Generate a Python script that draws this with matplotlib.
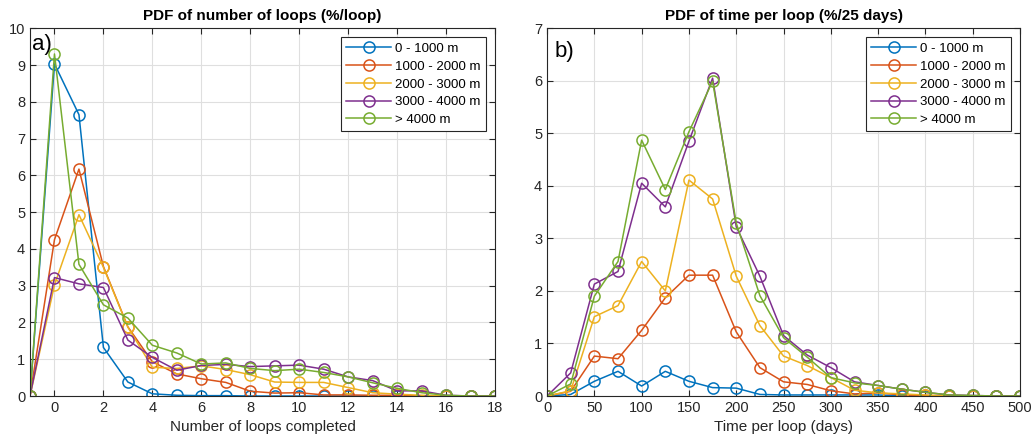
import matplotlib.pyplot as plt
import numpy as np

plt.rcParams['font.family'] = ['Liberation Sans', 'DejaVu Sans']

labels = ['0 - 1000 m', '1000 - 2000 m', '2000 - 3000 m', '3000 - 4000 m', '> 4000 m']
colors = ['#0072BD', '#D95319', '#EDB120', '#7E2F8E', '#77AC30']

# panel a: number of loops completed
loops = list(range(-1, 19))
loops_pdf = [
    [0, 9.03, 7.65, 1.32, 0.38, 0.06, 0.02, 0.01, 0.01, 0.0, 0.0, 0.0, 0.0, 0, 0, 0, 0, 0, 0, 0],
    [0, 4.25, 6.17, 3.52, 1.88, 0.93, 0.60, 0.47, 0.37, 0.13, 0.08, 0.09, 0.03, 0.03, 0.02, 0.02, 0.0, 0, 0, 0],
    [0, 3.02, 4.93, 3.50, 1.87, 0.78, 0.75, 0.82, 0.72, 0.58, 0.38, 0.37, 0.37, 0.23, 0.09, 0.05, 0.02, 0, 0, 0],
    [0, 3.22, 3.05, 2.95, 1.52, 1.05, 0.70, 0.83, 0.86, 0.80, 0.82, 0.84, 0.73, 0.52, 0.42, 0.14, 0.14, 0.02, 0, 0],
    [0, 9.30, 3.58, 2.48, 2.12, 1.38, 1.17, 0.87, 0.90, 0.75, 0.69, 0.73, 0.64, 0.52, 0.36, 0.21, 0.09, 0.02, 0, 0],
]

# panel b: time per loop
days = list(range(0, 501, 25))
time_pdf = [
    [0, 0.03, 0.28, 0.47, 0.19, 0.47, 0.28, 0.16, 0.15, 0.03, 0.02, 0.02, 0.02, 0.02, 0.02, 0.0, 0, 0, 0, 0, 0],
    [0, 0.09, 0.76, 0.71, 1.25, 1.87, 2.30, 2.30, 1.22, 0.54, 0.27, 0.22, 0.10, 0.04, 0.06, 0.02, 0.01, 0, 0, 0, 0],
    [0, 0.10, 1.51, 1.72, 2.56, 2.00, 4.11, 3.75, 2.28, 1.34, 0.76, 0.58, 0.35, 0.11, 0.06, 0.04, 0.02, 0, 0, 0, 0],
    [0, 0.44, 2.13, 2.37, 4.05, 3.60, 4.85, 6.05, 3.22, 2.28, 1.15, 0.78, 0.54, 0.27, 0.20, 0.13, 0.07, 0.02, 0.01, 0, 0],
    [0, 0.23, 1.90, 2.56, 4.87, 3.93, 5.03, 5.99, 3.29, 1.91, 1.11, 0.74, 0.35, 0.25, 0.20, 0.13, 0.07, 0.02, 0.01, 0, 0],
]

fig = plt.figure(figsize=(10.31, 4.41), dpi=100)
ax1 = fig.add_axes([0.0291, 0.102, 0.451, 0.834])
ax2 = fig.add_axes([0.5306, 0.102, 0.4588, 0.834])


def style(ax):
    ax.grid(True, color='#dfdfdf', linewidth=0.8)
    ax.set_axisbelow(True)
    ax.tick_params(direction='in', top=True, right=True, labelsize=10.5,
                   colors='#262626', length=4)
    for s in ax.spines.values():
        s.set_color('#262626')
        s.set_linewidth(0.8)
    leg = ax.legend(loc='upper right', fontsize=9.5, fancybox=False,
                    edgecolor='#262626', framealpha=1, handlelength=3.4,
                    borderaxespad=0.7, labelspacing=0.42, handletextpad=0.3,
                    borderpad=0.4)
    leg.get_frame().set_linewidth(0.8)


for vals, c, lab in zip(loops_pdf, colors, labels):
    ax1.plot(loops, vals, '-o', color=c, mfc='none', ms=8, lw=1.1, mew=1.1, label=lab)
ax1.set_xlim(-1, 18)
ax1.set_ylim(0, 10)
ax1.set_xticks(np.arange(0, 19, 2))
ax1.set_yticks(np.arange(0, 11, 1))
ax1.set_xlabel('Number of loops completed', fontsize=11, color='#262626')
ax1.set_title('PDF of number of loops (%/loop)', fontsize=11, fontweight='bold', pad=6)
ax1.text(0.005, 0.985, 'a)', transform=ax1.transAxes, fontsize=16, va='top', ha='left')
style(ax1)

for vals, c, lab in zip(time_pdf, colors, labels):
    ax2.plot(days, vals, '-o', color=c, mfc='none', ms=8, lw=1.1, mew=1.1, label=lab)
ax2.set_xlim(0, 500)
ax2.set_ylim(0, 7)
ax2.set_xticks(np.arange(0, 501, 50))
ax2.set_yticks(np.arange(0, 8, 1))
ax2.set_xlabel('Time per loop (days)', fontsize=11, color='#262626')
ax2.set_title('PDF of time per loop (%/25 days)', fontsize=11, fontweight='bold', pad=6)
ax2.text(0.015, 0.965, 'b)', transform=ax2.transAxes, fontsize=16, va='top', ha='left')
style(ax2)

fig.savefig('out.png', dpi=100)
